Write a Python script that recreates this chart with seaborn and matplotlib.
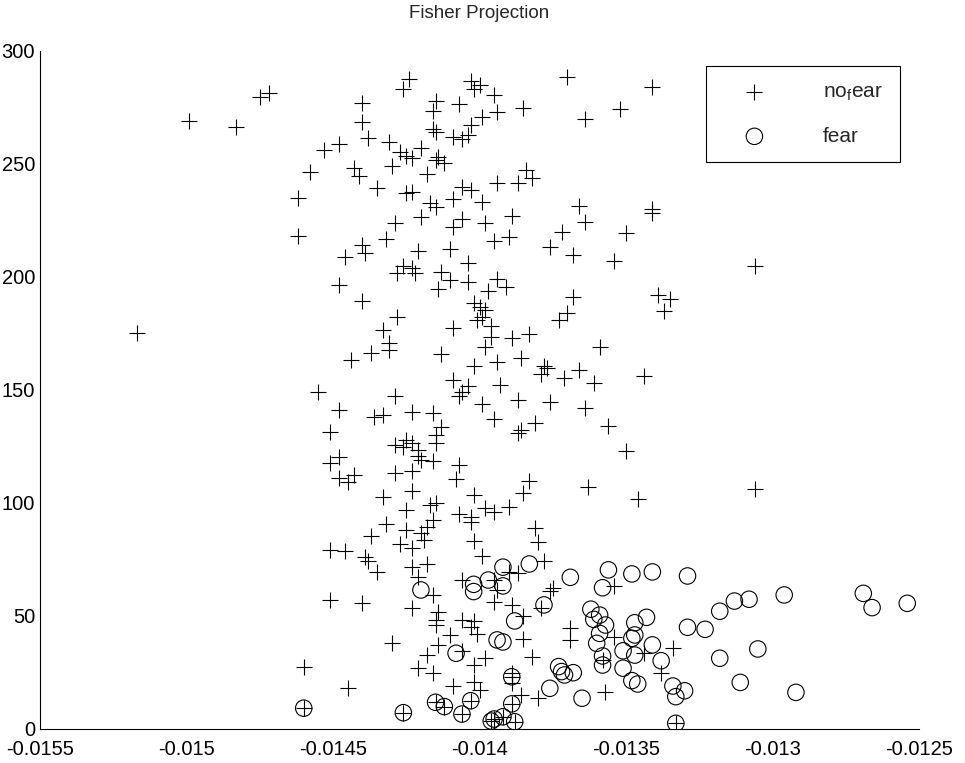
import numpy as np
import matplotlib
matplotlib.use("Agg")
import matplotlib.pyplot as plt
import seaborn as sns
from matplotlib.ticker import FuncFormatter

# --- data ---
nofear_x = [
    -0.01517, -0.01499, -0.01483, -0.01475, -0.01472, -0.01462, -0.01462, -0.01424, -0.01426, -0.01403,
    -0.01400, -0.01402, -0.01395, -0.01440, -0.01415, -0.01407, -0.01416, -0.01399, -0.01394, -0.01440,
    -0.01403, -0.01416, -0.01415, -0.01438, -0.01431, -0.01409, -0.01406, -0.01404, -0.01448, -0.01453,
    -0.01427, -0.01425, -0.01423, -0.01420, -0.01414, -0.01415, -0.01412, -0.01458, -0.01443, -0.01441,
    -0.01430, -0.01418, -0.01435, -0.01425, -0.01423, -0.01417, -0.01415, -0.01409, -0.01406, -0.01403,
    -0.01399, -0.01394, -0.01429, -0.01420, -0.01409, -0.01406, -0.01398, -0.01370, -0.01341, -0.01385,
    -0.01364, -0.01352, -0.01384, -0.01382, -0.01387, -0.01366, -0.01364, -0.01341, -0.01341, -0.01389,
    -0.01432, -0.01440, -0.01439, -0.01446, -0.01421, -0.01410, -0.01395, -0.01404, -0.01426, -0.01428,
    -0.01423, -0.01422, -0.01413, -0.01410, -0.01404, -0.01394, -0.01448, -0.01414, -0.01397, -0.01440,
    -0.01402, -0.01400, -0.01398, -0.01401, -0.01399, -0.01396, -0.01396, -0.01398, -0.01428, -0.01433,
    -0.01431, -0.01431, -0.01409, -0.01437, -0.01444, -0.01413, -0.01402, -0.01394, -0.01409, -0.01404,
    -0.01390, -0.01372, -0.01350, -0.01376, -0.01368, -0.01354, -0.01391, -0.01368, -0.01370, -0.01373,
    -0.01339, -0.01335, -0.01337, -0.01389, -0.01383, -0.01359, -0.01386, -0.01378, -0.01379, -0.01377,
    -0.01366, -0.01371, -0.01361, -0.01344, -0.01393, -0.01455, -0.01429, -0.01407, -0.01406, -0.01399,
    -0.01395, -0.01448, -0.01436, -0.01433, -0.01423, -0.01416, -0.01451, -0.01413, -0.01415, -0.01415,
    -0.01429, -0.01426, -0.01425, -0.01423, -0.01421, -0.01421, -0.01420, -0.01416, -0.01448, -0.01451,
    -0.01407, -0.01408, -0.01448, -0.01445, -0.01443, -0.01429, -0.01423, -0.01433, -0.01423, -0.01402,
    -0.01425, -0.01417, -0.01415, -0.01398, -0.01395, -0.01407, -0.01403, -0.01403, -0.01432, -0.01416,
    -0.01418, -0.01425, -0.01420, -0.01419, -0.01437, -0.01427, -0.01423, -0.01402, -0.01399, -0.01451,
    -0.01446, -0.01439, -0.01438, -0.01435, -0.01423, -0.01418, -0.01421, -0.01406, -0.01395, -0.01395,
    -0.01416, -0.01451, -0.01440, -0.01423, -0.01414, -0.01415, -0.01415, -0.01406, -0.01402, -0.01403,
    -0.01401, -0.01410, -0.01430, -0.01414, -0.01418, -0.01406, -0.01398, -0.01402, -0.01421, -0.01416,
    -0.01460, -0.01409, -0.01402, -0.01400, -0.01445, -0.01387, -0.01376, -0.01364, -0.01381, -0.01386,
    -0.01387, -0.01356, -0.01350, -0.01383, -0.01385, -0.01363, -0.01346, -0.01390, -0.01381, -0.01380,
    -0.01378, -0.01390, -0.01387, -0.01394, -0.01375, -0.01376, -0.01354, -0.01389, -0.01379, -0.01385,
    -0.01369, -0.01369, -0.01385, -0.01354, -0.01382, -0.01344, -0.01334, -0.01358, -0.01389, -0.01389,
    -0.01386, -0.01380, -0.01338, -0.01357, -0.01306, -0.01306,
]
nofear_y = [
    175.4, 269.0, 266.5, 279.8, 281.6, 235.1, 218.3, 287.6, 283.2, 286.9,
    285.0, 283.1, 280.7, 277.1, 277.8, 276.4, 273.6, 270.9, 273.2, 268.6,
    267.4, 265.5, 264.0, 261.4, 259.7, 262.1, 260.9, 262.8, 258.7, 256.2,
    255.5, 253.6, 252.5, 257.0, 253.2, 251.8, 250.6, 246.3, 248.1, 244.7,
    249.1, 245.5, 239.5, 237.0, 237.8, 232.9, 230.9, 234.4, 240.0, 238.5,
    233.3, 241.5, 224.0, 226.7, 222.3, 225.5, 223.8, 288.4, 284.2, 274.9,
    269.8, 274.4, 247.4, 244.0, 241.7, 231.6, 224.5, 229.9, 228.1, 227.1,
    216.7, 214.2, 210.5, 208.7, 211.5, 212.3, 215.9, 206.1, 204.9, 201.9,
    203.9, 201.6, 202.4, 198.7, 197.7, 199.0, 196.5, 194.7, 193.9, 189.5,
    188.4, 186.9, 185.4, 181.0, 182.4, 178.3, 173.3, 169.2, 182.4, 176.6,
    170.9, 167.7, 177.3, 166.5, 163.3, 165.8, 160.8, 162.5, 154.4, 151.9,
    217.6, 220.1, 219.3, 213.2, 209.7, 207.0, 195.5, 191.3, 184.2, 181.0,
    192.0, 190.3, 185.1, 172.9, 174.7, 169.2, 164.0, 160.8, 157.1, 159.6,
    158.9, 155.3, 153.2, 156.2, 152.2, 149.0, 147.5, 147.5, 149.3, 143.8,
    137.0, 141.2, 137.9, 138.9, 140.4, 139.7, 131.6, 133.5, 130.1, 126.7,
    125.7, 124.9, 127.9, 126.4, 123.5, 120.8, 119.0, 118.6, 120.5, 117.8,
    116.8, 110.6, 111.2, 109.4, 112.4, 113.4, 114.3, 102.8, 105.4, 103.5,
    96.9, 99.1, 100.1, 97.9, 95.9, 95.0, 93.9, 91.5, 90.7, 92.5,
    89.5, 88.1, 86.9, 83.6, 85.4, 81.9, 80.0, 83.2, 76.6, 79.2,
    78.8, 76.0, 74.5, 69.3, 71.8, 73.0, 67.4, 65.9, 65.9, 56.3,
    59.3, 57.1, 55.6, 53.4, 51.9, 48.2, 46.0, 48.2, 47.8, 45.0,
    41.9, 41.6, 37.9, 37.2, 32.7, 34.6, 31.3, 28.3, 26.9, 24.9,
    27.6, 19.2, 20.9, 17.3, 18.0, 145.6, 144.8, 142.2, 135.3, 132.3,
    130.8, 134.2, 123.0, 109.9, 104.6, 107.2, 101.9, 98.4, 88.8, 82.6,
    74.5, 69.6, 68.9, 61.5, 62.3, 61.2, 63.4, 54.9, 53.4, 50.0,
    44.6, 39.4, 39.7, 40.8, 32.0, 33.8, 35.7, 30.5, 24.6, 20.2,
    15.0, 13.6, 24.6, 16.5, 204.9, 106.1,
]

# points where a '+' and an 'o' sit on top of each other
both_x = [-0.01460, -0.01426, -0.01415, -0.01412, -0.01403, -0.01406, -0.01395,
          -0.01396, -0.01392, -0.01389, -0.01389, -0.01388, -0.01333]
both_y = [9.2, 7.2, 11.8, 9.9, 12.5, 6.6, 4.4, 3.5, 5.4, 23.1, 11.1, 3.2, 2.5]

fear_x = [
    -0.01420, -0.01402, -0.01402, -0.01397, -0.01408, -0.01394, -0.01392, -0.01392, -0.01383, -0.01392,
    -0.01369, -0.01356, -0.01358, -0.01348, -0.01341, -0.01329, -0.01378, -0.01388, -0.01362, -0.01359,
    -0.01361, -0.01357, -0.01359, -0.01360, -0.01358, -0.01358, -0.01347, -0.01343, -0.01347, -0.01348,
    -0.01351, -0.01341, -0.01347, -0.01338, -0.01351, -0.01348, -0.01346, -0.01334, -0.01330, -0.01333,
    -0.01373, -0.01372, -0.01371, -0.01368, -0.01376, -0.01365, -0.01329, -0.01323, -0.01318, -0.01313,
    -0.01318, -0.01311, -0.01308, -0.01296, -0.01269, -0.01266, -0.01254, -0.01305, -0.01292,
]
fear_y = [
    61.5, 64.0, 60.8, 65.9, 33.5, 39.4, 38.5, 71.6, 73.0, 63.3,
    67.1, 70.4, 62.5, 68.6, 69.5, 67.7, 54.9, 47.8, 53.0, 50.4,
    48.5, 46.0, 42.3, 37.9, 32.3, 28.3, 47.0, 49.4, 41.6, 40.1,
    34.6, 37.2, 32.7, 30.2, 26.9, 21.4, 19.9, 19.0, 16.9, 14.3,
    27.6, 25.4, 23.9, 24.9, 18.0, 13.6, 45.0, 44.1, 52.1, 56.6,
    31.3, 20.6, 57.4, 59.3, 60.0, 53.7, 55.6, 35.4, 16.2,
]

x_ticks = [-0.0155, -0.015, -0.0145, -0.014, -0.0135, -0.013, -0.0125]
y_ticks = [0, 50, 100, 150, 200, 250, 300]

sns.set_style("white")
plt.rcParams['font.family'] = ['Liberation Sans', 'DejaVu Sans']
plt.rcParams['mathtext.fontset'] = 'custom'
plt.rcParams['mathtext.rm'] = 'Liberation Sans'
plt.rcParams['mathtext.it'] = 'Liberation Sans'

fig = plt.figure(figsize=(9.65, 7.63), dpi=100)
ax = fig.add_axes([0.0415, 0.0446, 0.9108, 0.8886])

sns.scatterplot(x=nofear_x + both_x, y=nofear_y + both_y, ax=ax, marker='+',
                s=140, color='black', linewidth=0.8, label=r'no$_\mathrm{f}$ear')
sns.scatterplot(x=fear_x + both_x, y=fear_y + both_y, ax=ax, marker='o',
                s=140, facecolors='none', edgecolor='black', linewidth=0.8,
                label='fear')

ax.set_xlim(-0.0155, -0.0125)
ax.set_ylim(0, 300)
ax.set_xticks(x_ticks)
ax.set_yticks(y_ticks)
ax.xaxis.set_major_formatter(FuncFormatter(lambda v, p: f'{v:g}'))
ax.tick_params(direction='in', length=5, width=0.8, labelsize=14.5,
               top=False, right=False, colors='black')
ax.tick_params(axis='x', pad=8)
for side in ['top', 'right']:
    ax.spines[side].set_visible(False)
for side in ['left', 'bottom']:
    ax.spines[side].set_color('black')
    ax.spines[side].set_linewidth(0.8)

ax.set_title('Fisher Projection', fontsize=13.5, pad=24)

leg = ax.legend(loc='upper right', bbox_to_anchor=(0.978, 0.978), fontsize=15,
                frameon=True, fancybox=False, framealpha=1, edgecolor='black',
                borderpad=0.8, labelspacing=1.15, handlelength=3.0,
                handletextpad=1.8, borderaxespad=0)
leg.get_frame().set_linewidth(0.8)

fig.savefig('out.png', dpi=100)
